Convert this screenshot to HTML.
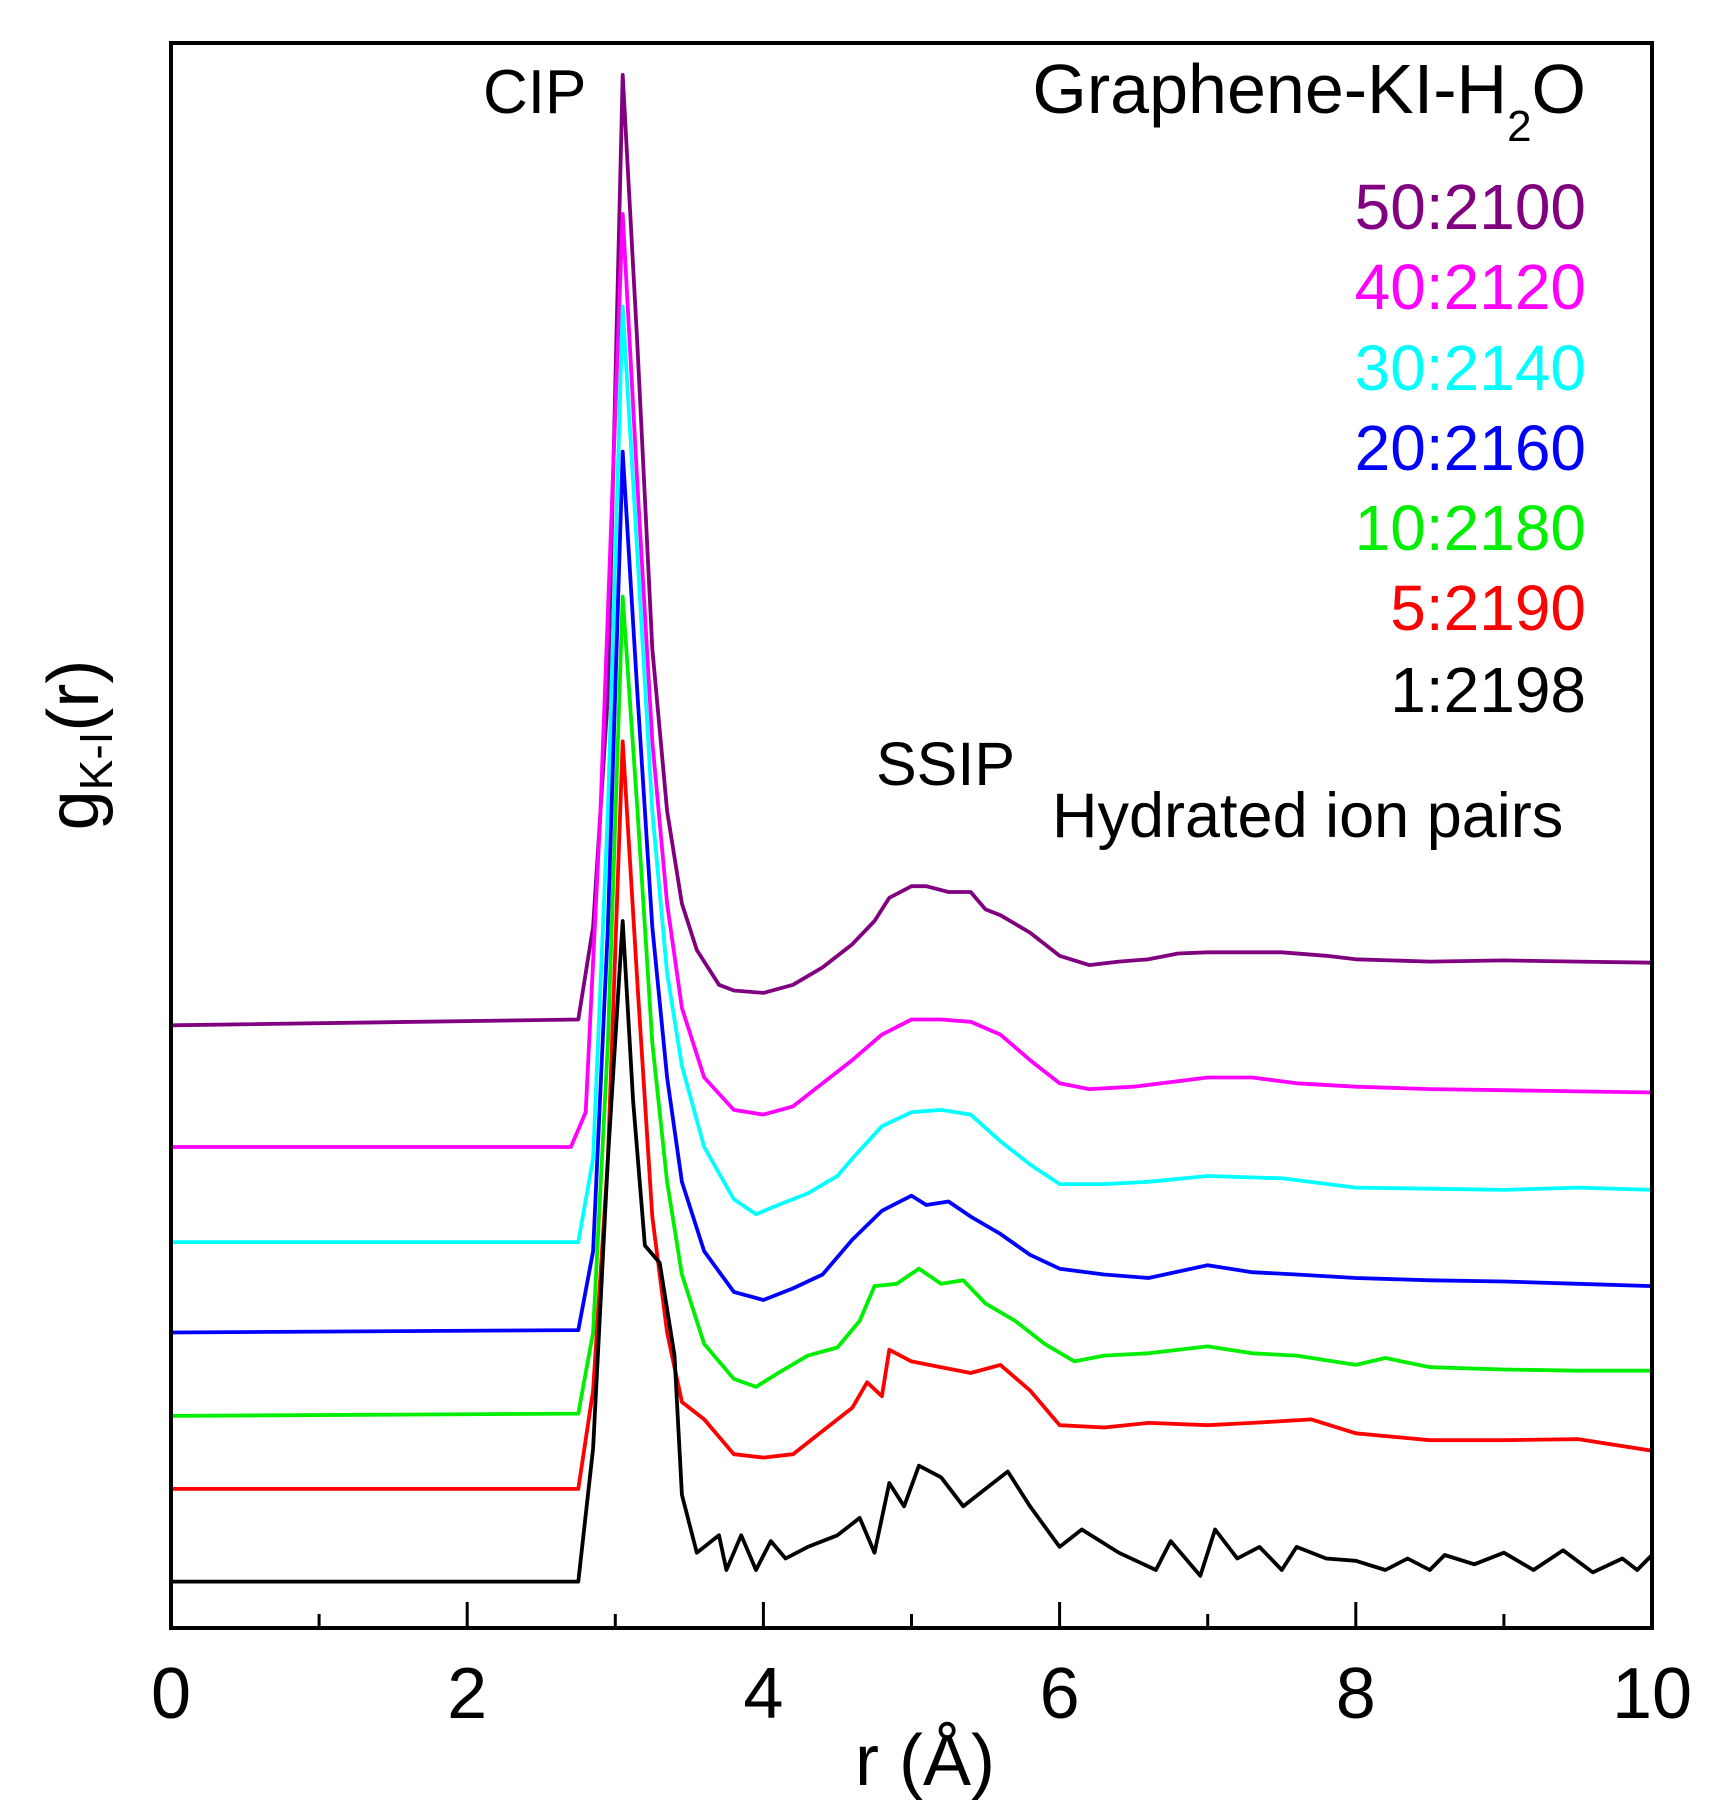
<!DOCTYPE html>
<html><head><meta charset="utf-8"><style>
html,body{margin:0;padding:0;background:#fff;}
svg{display:block;font-family:"Liberation Sans",Arial,sans-serif;}
</style></head><body>
<svg id="chart" width="1721" height="1816" viewBox="0 0 1721 1816">
<g id="series"></g>
<rect x="171" y="43" width="1481" height="1585" fill="none" stroke="#000" stroke-width="4"/>
<g id="xticks"></g>
<text x="925" y="1785" font-size="72" text-anchor="middle">r (Å)</text>
<text transform="translate(98,745) rotate(-90)" font-size="72" text-anchor="middle">g<tspan font-size="46" dy="14">K-I</tspan><tspan dy="-14">(r)</tspan></text>
<text x="483" y="113" font-size="62">CIP</text>
<text x="1586" y="113" font-size="70" text-anchor="end">Graphene-KI-H<tspan font-size="44" dy="28">2</tspan><tspan dy="-28">O</tspan></text>
<text x="876" y="785" font-size="61">SSIP</text>
<text x="1052" y="837" font-size="63">Hydrated ion pairs</text>
<g id="legend"></g>
</svg>
<script>
const labels = ["50:2100","40:2120","30:2140","20:2160","10:2180","5:2190","1:2198"];
const colors = ["#800080","#ff00ff","#00ffff","#0000ff","#00ee00","#ff0000","#000000"];
const xTicks = [0,2,4,6,8,10];

const r50 = [0,2.75,2.85,2.95,3.05,3.15,3.25,3.35,3.45,3.55,3.7,3.8,4.0,4.2,4.4,4.6,4.75,4.85,5.0,5.1,5.25,5.4,5.5,5.6,5.8,6.0,6.2,6.4,6.6,6.8,7.0,7.2,7.5,7.8,8.0,8.5,9.0,9.5,10];
const g50 = [520,525,605,805,1340,1105,845,705,625,585,555,550,548,555,570,590,610,630,640,640,635,635,620,615,600,580,572,575,577,582,583,583,583,580,577,575,576,575,574];
const r40 = [0,2.7,2.8,2.9,3.05,3.15,3.25,3.35,3.45,3.6,3.8,4.0,4.2,4.4,4.6,4.8,5.0,5.2,5.4,5.6,5.8,6.0,6.2,6.5,7.0,7.3,7.6,8.0,8.5,9.0,9.5,10];
const g40 = [415,415,445,705,1220,985,765,625,535,475,447,443,450,470,490,512,525,525,523,512,490,470,465,467,475,475,470,467,465,464,463,462];
const r30 = [0,2.75,2.85,2.95,3.05,3.15,3.25,3.35,3.45,3.6,3.8,3.95,4.1,4.3,4.5,4.6,4.8,5.0,5.2,5.4,5.6,5.8,6.0,6.3,6.6,7.0,7.5,8.0,8.5,9.0,9.5,10];
const g30 = [333,333,405,705,1140,925,705,565,485,415,370,357,365,375,390,405,433,445,447,443,420,400,383,383,385,390,388,380,379,378,380,378];
const r20 = [0,2.75,2.85,2.95,3.05,3.15,3.25,3.35,3.45,3.6,3.8,4.0,4.2,4.4,4.6,4.8,5.0,5.1,5.25,5.4,5.6,5.8,6.0,6.3,6.6,7.0,7.3,7.6,8.0,8.5,9.0,9.5,10];
const g20 = [255,257,325,605,1015,805,605,475,385,325,290,283,293,305,335,360,373,365,368,355,340,322,310,305,302,313,307,305,302,300,299,297,295];
const r10 = [0,2.75,2.85,2.95,3.05,3.15,3.25,3.35,3.45,3.6,3.8,3.95,4.1,4.3,4.5,4.65,4.75,4.9,5.05,5.2,5.35,5.5,5.7,5.9,6.1,6.3,6.6,7.0,7.3,7.6,8.0,8.2,8.5,9.0,9.5,10];
const g10 = [183,185,255,505,890,705,505,385,305,245,215,208,220,235,242,265,295,297,310,297,300,280,265,245,230,235,237,243,237,235,227,233,225,223,222,222];
const r5 = [0,2.75,2.85,2.95,3.05,3.15,3.25,3.35,3.45,3.6,3.8,4.0,4.2,4.4,4.6,4.7,4.8,4.85,5.0,5.2,5.4,5.6,5.8,6.0,6.3,6.6,7.0,7.3,7.7,8.0,8.5,9.0,9.5,10];
const g5 = [120,120,205,405,765,555,355,255,195,180,150,147,150,170,190,212,200,240,230,225,220,227,205,175,173,177,175,177,180,168,162,162,163,153];
const r1 = [0,2.75,2.85,2.95,3.05,3.12,3.2,3.3,3.4,3.45,3.55,3.7,3.75,3.85,3.95,4.05,4.15,4.3,4.5,4.65,4.75,4.85,4.95,5.05,5.2,5.35,5.5,5.65,5.8,6.0,6.15,6.4,6.65,6.75,6.95,7.05,7.2,7.35,7.5,7.6,7.8,8.0,8.2,8.35,8.5,8.6,8.8,9.0,9.2,9.4,9.6,9.8,9.9,10];
const g1 = [40,40,155,405,610,455,330,315,235,115,65,80,50,80,50,75,60,70,80,95,65,125,105,140,130,105,120,135,105,70,85,65,50,75,45,85,60,70,50,70,60,58,50,60,50,63,55,65,50,67,48,60,50,63];

const rs = [r50,r40,r30,r20,r10,r5,r1];
const gs = [g50,g40,g30,g20,g10,g5,g1];

const NS = "http://www.w3.org/2000/svg";
function xScale(r){ return 171 + r * 148.1; }
function yScale(v){ return 1628 - v * 1.159; }

const sg = document.getElementById('series');
for (let i = 0; i < rs.length; i++) {
  const d = rs[i].map((r,j)=> (j?'L':'M') + xScale(r).toFixed(1) + ' ' + yScale(gs[i][j]).toFixed(1)).join(' ');
  const p = document.createElementNS(NS,'path');
  p.setAttribute('d', d);
  p.setAttribute('fill','none');
  p.setAttribute('stroke', colors[i]);
  p.setAttribute('stroke-width','3.8');
  p.setAttribute('stroke-linejoin','round');
  
  
  sg.appendChild(p);
}

const lg = document.getElementById('legend');
const legY = [229,309,390,470,550,630,712];
for (let i = 0; i < labels.length; i++) {
  const t = document.createElementNS(NS,'text');
  t.setAttribute('x','1586');
  t.setAttribute('y', legY[i]);
  t.setAttribute('font-size','64');
  t.setAttribute('text-anchor','end');
  t.setAttribute('fill', colors[i]);
  t.textContent = labels[i];
  
  
  lg.appendChild(t);
}

const xg = document.getElementById('xticks');
for (let k = 0; k <= 10; k++) {
  const x = xScale(k);
  const major = k % 2 === 0;
  const l = document.createElementNS(NS,'line');
  l.setAttribute('x1', x); l.setAttribute('x2', x);
  l.setAttribute('y1', 1628); l.setAttribute('y2', 1628 - (major ? 26 : 14));
  l.setAttribute('stroke','#000'); l.setAttribute('stroke-width','3');
  
  
  xg.appendChild(l);
}
for (const v of xTicks) {
  const t = document.createElementNS(NS,'text');
  t.setAttribute('x', xScale(v));
  t.setAttribute('y', 1718);
  t.setAttribute('font-size','72');
  t.setAttribute('text-anchor','middle');
  t.textContent = v;
  
  
  xg.appendChild(t);
}
</script>
</body></html>
